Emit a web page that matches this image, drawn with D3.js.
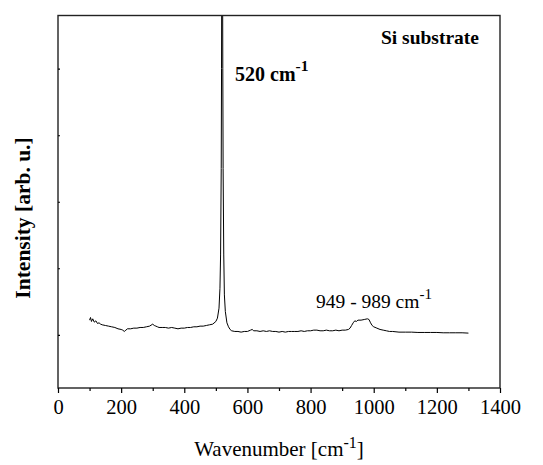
<!DOCTYPE html>
<html>
<head>
<meta charset="utf-8">
<script src="https://cdn.jsdelivr.net/npm/d3@7"></script>
<style>
  html, body { margin: 0; padding: 0; background: #fff; }
  svg { display: block; }
</style>
</head>
<body>
<script>
// ---- data ----
const wavenumber = [100,103,106,110,115,120,125,130,135,140,150,160,170,180,190,200,205,210,215,220,230,240,250,260,270,280,290,300,305,310,315,320,330,340,350,360,370,380,390,400,410,420,430,440,450,460,470,480,490,500,505,510,513,515,517,518,519,520,521,522,523,525,527,530,535,540,545,550,560,570,580,590,600,610,615,620,630,640,650,660,670,680,690,700,710,720,730,740,750,760,770,780,790,800,810,820,830,840,850,860,870,880,890,900,910,920,925,930,935,940,945,950,960,970,980,985,990,995,1000,1010,1020,1030,1040,1050,1060,1080,1100,1120,1140,1160,1180,1200,1220,1240,1260,1280,1300];
const intensity  = [0.22,0.26,0.20,0.24,0.19,0.21,0.17,0.18,0.16,0.15,0.14,0.13,0.12,0.11,0.09,0.08,0.07,0.05,0.07,0.09,0.09,0.10,0.10,0.11,0.11,0.12,0.13,0.16,0.14,0.13,0.12,0.11,0.11,0.11,0.10,0.11,0.10,0.09,0.10,0.10,0.11,0.11,0.12,0.12,0.13,0.13,0.14,0.15,0.16,0.20,0.25,0.40,0.70,1.20,2.50,4.00,6.00,7.00,6.00,4.00,2.50,1.20,0.60,0.35,0.18,0.12,0.08,0.06,0.05,0.05,0.04,0.05,0.05,0.07,0.08,0.06,0.06,0.05,0.06,0.05,0.06,0.05,0.05,0.04,0.05,0.04,0.05,0.05,0.05,0.05,0.06,0.05,0.06,0.06,0.07,0.07,0.06,0.06,0.07,0.06,0.06,0.07,0.06,0.07,0.07,0.08,0.10,0.14,0.18,0.21,0.20,0.22,0.22,0.23,0.24,0.23,0.18,0.14,0.12,0.10,0.08,0.07,0.06,0.05,0.05,0.04,0.04,0.04,0.035,0.035,0.035,0.035,0.03,0.03,0.03,0.03,0.025];
const xTicks = [0,200,400,600,800,1000,1200,1400];
const xMinorTicks = [100,300,500,700,900,1100,1300];
const yTicks = [0,1,2,3,4];
const xDomain = [0,1400];
const yDomain = [-0.8,4.8];

// ---- layout ----
const FONT = "'Liberation Serif', 'Times New Roman', serif";
const W = 543, H = 465;
const mLeft = 58, mRight = 500, mTop = 15.5, mBottom = 388;

const svg = d3.select("body").append("svg").attr("width", W).attr("height", H)
  .style("font-family", FONT);

const x = d3.scaleLinear().domain(xDomain).range([mLeft, mRight]);
const y = d3.scaleLinear().domain(yDomain).range([mBottom, mTop]);

svg.append("defs").append("clipPath").attr("id", "plotclip")
  .append("rect").attr("x", mLeft).attr("y", mTop).attr("width", mRight - mLeft).attr("height", mBottom - mTop);

// spectrum
const pts = wavenumber.map((w, i) => [w, intensity[i]]);
const line = d3.line().x(d => x(d[0])).y(d => y(d[1]));
svg.append("path").datum(pts)
  .attr("clip-path", "url(#plotclip)")
  .attr("d", line)
  .attr("fill", "none")
  .attr("stroke", "#000")
  .attr("stroke-width", 1)
  .attr("stroke-linejoin", "round");

// frame
svg.append("rect").attr("x", mLeft).attr("y", mTop).attr("width", mRight - mLeft).attr("height", mBottom - mTop)
  .attr("fill", "none").attr("stroke", "#222").attr("stroke-width", 1.4);

// x axis (major)
const xAxis = d3.axisBottom(x).tickValues(xTicks).tickSize(5).tickPadding(6).tickFormat(d3.format("d"));
const gx = svg.append("g").attr("transform", `translate(0,${mBottom})`).call(xAxis);
gx.attr("font-family", null).attr("font-size", null);
gx.select(".domain").remove();
gx.selectAll(".tick line").attr("stroke", "#000").attr("stroke-width", 1.2);
gx.selectAll(".tick text").style("font-family", FONT).style("font-size", "20.5px").attr("fill", "#000");

// x axis minor
const xAxisMinor = d3.axisBottom(x).tickValues(xMinorTicks).tickSize(3).tickFormat("");
const gxm = svg.append("g").attr("transform", `translate(0,${mBottom})`).call(xAxisMinor);
gxm.select(".domain").remove();
gxm.selectAll(".tick line").attr("stroke", "#000").attr("stroke-width", 1.2);

// y axis ticks (inward, no labels)
const yAxis = d3.axisLeft(y).tickValues(yTicks).tickSize(-2).tickFormat("");
const gy = svg.append("g").attr("transform", `translate(${mLeft},0)`).call(yAxis);
gy.select(".domain").remove();
gy.selectAll(".tick line").attr("stroke", "#000").attr("stroke-width", 1.2);

// axis titles
const xt = svg.append("text").attr("x", 279).attr("y", 456).attr("text-anchor", "middle")
  .style("font-family", FONT).style("font-size", "21px");
xt.append("tspan").text("Wavenumber [cm");
xt.append("tspan").attr("dy", -8).style("font-size", "16px").text("-1");
xt.append("tspan").attr("dy", 8).text("]");

svg.append("text")
  .attr("transform", "translate(30,218) rotate(-90)")
  .attr("text-anchor", "middle")
  .style("font-family", FONT).style("font-size", "21.5px").style("font-weight", "bold")
  .text("Intensity [arb. u.]");

// annotations
svg.append("text").attr("x", 479).attr("y", 44).attr("text-anchor", "end")
  .style("font-family", FONT).style("font-size", "19.5px").style("font-weight", "bold")
  .text("Si substrate");

const a1 = svg.append("text").attr("x", 235).attr("y", 81)
  .style("font-family", FONT).style("font-size", "20px").style("font-weight", "bold");
a1.append("tspan").text("520 cm");
a1.append("tspan").attr("dy", -10).style("font-size", "15.5px").text("-1");

const a2 = svg.append("text").attr("x", 316).attr("y", 308)
  .style("font-family", FONT).style("font-size", "19.5px");
a2.append("tspan").text("949 - 989 cm");
a2.append("tspan").attr("dy", -9).style("font-size", "15px").text("-1");
</script>
</body>
</html>
